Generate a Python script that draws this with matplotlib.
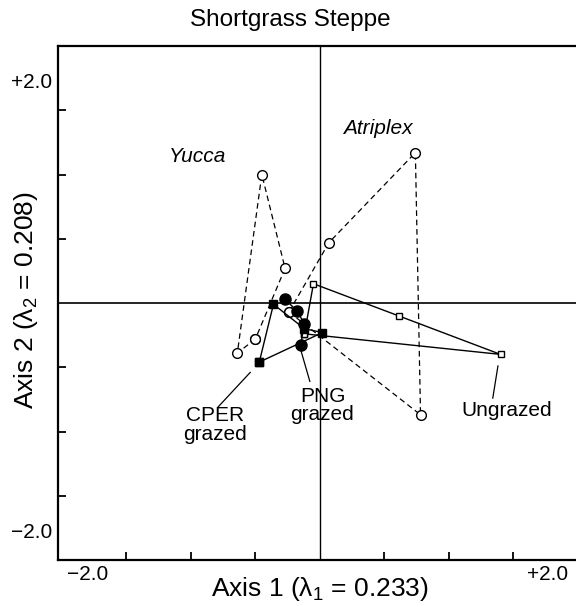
import matplotlib
matplotlib.use("Agg")
import matplotlib.pyplot as plt

plt.rcParams['font.family'] = ['Liberation Sans', 'DejaVu Sans']
plt.rcParams['mathtext.fontset'] = 'custom'
plt.rcParams['mathtext.rm'] = 'Liberation Sans'
plt.rcParams['mathtext.it'] = 'Liberation Sans:italic'

# --- data (ordination scores) ---
yucca_x = [-0.50, -0.64, -0.45, -0.27, -0.50]
yucca_y = [-0.28, -0.39, 1.00, 0.27, -0.28]

atriplex_x = [-0.24, 0.07, 0.74, 0.78, -0.24]
atriplex_y = [-0.07, 0.47, 1.17, -0.87, -0.07]

ungrazed_x = [-0.12, -0.05, 0.61, 1.40, -0.12]
ungrazed_y = [-0.24, 0.15, -0.10, -0.40, -0.24]

cper_x = [-0.47, -0.36, -0.12, 0.02, -0.47]
cper_y = [-0.46, -0.01, -0.20, -0.23, -0.46]

png_x = [-0.27, -0.18, -0.12, -0.15]
png_y = [0.03, -0.06, -0.16, -0.33]

xticks = [-1.5, -1.0, -0.5, 0.5, 1.0, 1.5]
yticks = [-1.5, -1.0, -0.5, 0.5, 1.0, 1.5]

fig = plt.figure(figsize=(5.76, 6.06), dpi=100)
ax = fig.add_axes([58/576, 46/606, 518/576, 514/606])
ax.set_xlim(-2.03, 1.985)
ax.set_ylim(-2.0, 2.0)

ax.axhline(0, color='black', lw=1.2, zorder=1)
ax.axvline(0, color='black', lw=1.0, zorder=1)

# dashed species trajectories
ax.plot(yucca_x, yucca_y, color='black', lw=0.9, ls=(0, (4.5, 3)),
        marker='o', ms=7, mfc='white', mec='black', mew=1.0, zorder=2)
ax.plot(atriplex_x, atriplex_y, color='black', lw=0.9, ls=(0, (4.5, 3)),
        marker='o', ms=7, mfc='white', mec='black', mew=1.0, zorder=2)

# solid site trajectories
ax.plot(ungrazed_x, ungrazed_y, color='black', lw=1.0,
        marker='s', ms=5, mfc='white', mec='black', mew=1.0, zorder=3)
ax.plot(cper_x, cper_y, color='black', lw=1.0,
        marker='s', ms=6, mfc='black', mec='black', zorder=4)
ax.plot(png_x, png_y, color='black', lw=1.0,
        marker='o', ms=8, mfc='black', mec='black', zorder=4)

# pointer lines and labels
ax.plot([-0.54, -0.79], [-0.54, -0.81], color='black', lw=0.9)
ax.plot([-0.147, -0.078], [-0.37, -0.61], color='black', lw=0.9)
ax.plot([1.38, 1.34], [-0.49, -0.74], color='black', lw=0.9)

lab_fs = 15
ax.text(-0.81, -0.95, 'CPER\ngrazed', ha='center', va='center',
        fontsize=lab_fs, linespacing=0.95)
ax.text(0.02, -0.80, 'PNG\ngrazed', ha='center', va='center',
        fontsize=lab_fs, linespacing=0.95)
ax.text(1.45, -0.84, 'Ungrazed', ha='center', va='center', fontsize=lab_fs)
ax.text(-0.95, 1.14, 'Yucca', ha='center', va='center', fontsize=lab_fs,
        style='italic')
ax.text(0.45, 1.36, 'Atriplex', ha='center', va='center', fontsize=lab_fs,
        style='italic')

# axes styling
ax.spines['right'].set_visible(False)
for s in ['left', 'bottom', 'top']:
    ax.spines[s].set_linewidth(1.6)
ax.set_xticks(xticks)
ax.set_yticks(yticks)
ax.tick_params(direction='in', length=6, width=1.3, labelbottom=False,
               labelleft=False)

tk_fs = 15
fig.text(32/576, 1 - 82/606, '+2.0', ha='center', va='center', fontsize=tk_fs)
fig.text(32/576, 1 - 533/606, '\u22122.0', ha='center', va='center', fontsize=tk_fs)
fig.text(88/576, 1 - 575/606, '\u22122.0', ha='center', va='center', fontsize=tk_fs)
fig.text(548/576, 1 - 575/606, '+2.0', ha='center', va='center', fontsize=tk_fs)

fig.text(290/576, 1 - 20/606, 'Shortgrass Steppe', ha='center', va='center',
         fontsize=17.5)
fig.text(320/576, 1 - 589/606, 'Axis 1 (\u03bb$_1$ = 0.233)', ha='center',
         va='center', fontsize=19)
fig.text(26/576, 1 - 300/606, 'Axis 2 (\u03bb$_2$ = 0.208)', ha='center',
         va='center', fontsize=19, rotation=90)

fig.savefig('out.png', dpi=100)
